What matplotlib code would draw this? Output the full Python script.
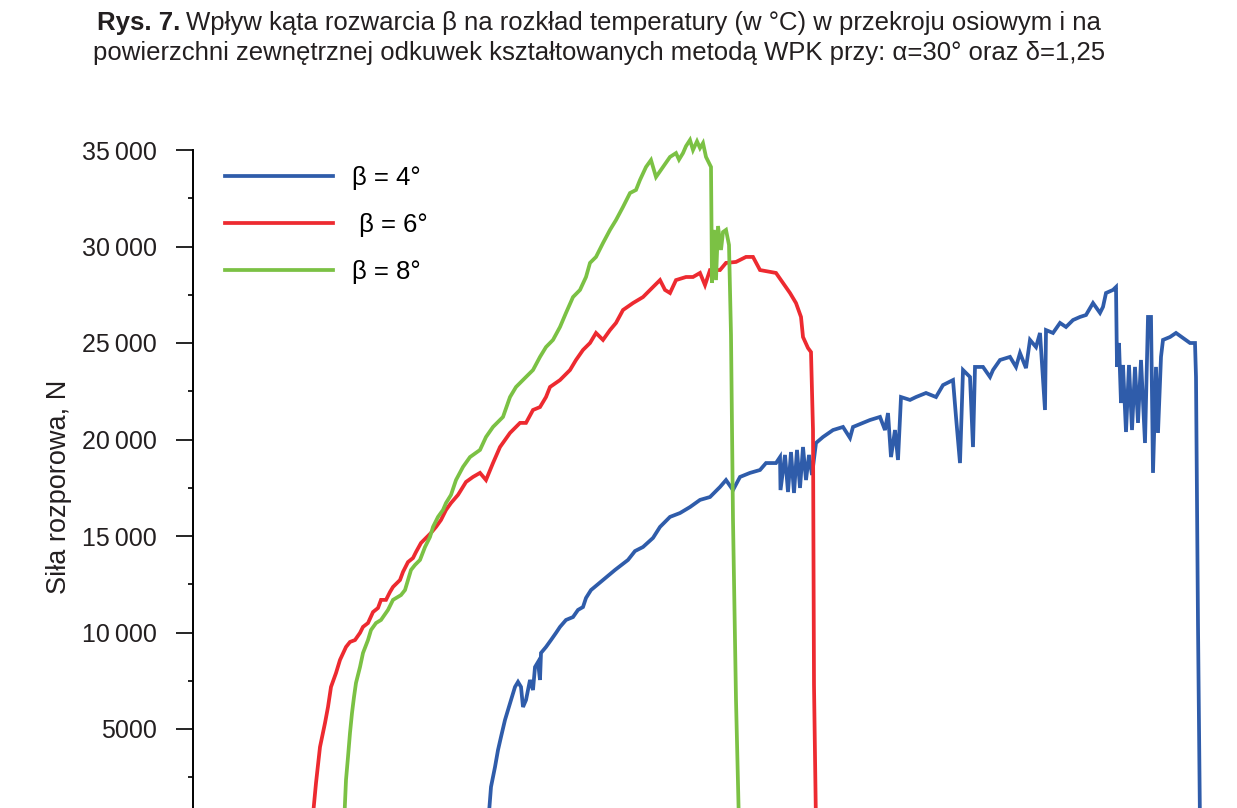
import numpy as np
import matplotlib
matplotlib.use('Agg')
from matplotlib import pyplot as plt
from matplotlib.ticker import MultipleLocator, FuncFormatter

plt.rcParams['font.family'] = ['Liberation Sans', 'DejaVu Sans']

# Displacement (mm) and spreading force (N)
x_b4 = [29.5, 29.8, 30.2, 30.5, 30.8, 31.2, 31.5, 31.8, 32.2, 32.5, 32.8, 33.0, 33.3, 33.7,
        34.0, 34.2, 34.5, 34.7, 34.8, 35.3, 35.8, 36.3, 36.7, 37.3, 38.0, 38.5, 39.0, 39.3,
        39.8, 41.0, 42.2, 43.5, 44.2, 45.0, 46.0, 46.7, 47.7, 48.7, 49.7, 50.7, 51.7, 52.7,
        53.3, 54.0, 54.7, 55.7, 56.7, 57.3, 58.3, 58.7, 58.75, 59.2, 59.5, 59.8, 60.1, 60.4,
        60.7, 61.0, 61.3, 61.6, 61.9, 62.3, 63.0, 64.0, 65.0, 65.7, 66.0, 67.0, 67.7, 68.7,
        69.2, 69.5, 69.8, 70.2, 70.5, 70.8, 71.7, 72.3, 73.3, 74.3, 75.0, 76.0, 76.3, 76.7,
        77.0, 77.7, 78.0, 78.2, 79.0, 79.7, 80.0, 80.7, 81.7, 82.3, 82.7, 83.3, 83.7, 84.3,
        84.7, 85.2, 85.3, 86.0, 86.7, 87.3, 88.0, 88.7, 89.3, 90.0, 90.7, 91.0, 91.3, 92.0,
        92.3, 92.4, 92.6, 92.8, 93.0, 93.3, 93.6, 93.9, 94.2, 94.5, 94.8, 95.2, 95.5, 95.8,
        96.0, 96.3, 96.5, 96.8, 97.0, 97.7, 98.3, 99.0, 99.7, 100.2, 100.3, 100.5, 100.7]
y_b4 = [0, 2000, 3030, 3910, 4590, 5470, 5990, 6500, 7180, 7440, 7180, 6140, 6500, 7540,
        7020, 8210, 8470, 7540, 8940, 9250, 9610, 9980, 10290, 10650, 10800, 11170, 11320, 11790,
        12200, 12720, 13240, 13760, 14220, 14430, 14900, 15470, 15990, 16190, 16500, 16870, 17020, 17540,
        17900, 17380, 18060, 18270, 18420, 18780, 18780, 19090, 17380, 19200, 17280, 19350, 17230, 19460,
        17490, 19610, 17900, 19200, 18160, 19820, 20130, 20490, 20650, 20080, 20650, 20860, 21010, 21170,
        20490, 21370, 19090, 20490, 18940, 22200, 22050, 22200, 22410, 22200, 22820, 23080, 21170, 18780,
        23600, 23240, 19610, 23760, 23760, 23240, 23600, 24120, 24280, 23760, 24480, 23700, 25160, 24790,
        25520, 21530, 25670, 25520, 26040, 25830, 26190, 26350, 26450, 27070, 26560, 26870, 27590, 27750,
        27900, 23760, 25000, 21890, 23860, 20390, 23860, 20490, 23760, 20860, 24120, 19820, 26350, 26350,
        18270, 23760, 20340, 24280, 25160, 25310, 25520, 25260, 25000, 25000, 23240, 10390, 0]

x_b6 = [11.9, 12.3, 12.7, 13.2, 13.5, 13.8, 14.3, 14.7, 15.3, 15.7, 16.2, 16.7, 17.0, 17.5,
        18.0, 18.5, 18.8, 19.3, 19.7, 20.0, 20.7, 21.0, 21.5, 22.0, 22.3, 22.8, 23.3, 23.8,
        24.3, 24.8, 25.3, 25.8, 26.5, 26.8, 27.3, 28.0, 28.7, 29.3, 30.0, 30.7, 31.7, 32.7,
        33.3, 34.0, 34.7, 35.3, 35.7, 36.7, 37.7, 38.3, 39.0, 39.7, 40.3, 41.0, 41.7, 42.3,
        43.0, 44.0, 45.0, 46.0, 46.7, 47.2, 47.7, 48.3, 49.3, 50.0, 50.7, 51.2, 51.7, 52.7,
        53.3, 54.3, 55.3, 56.0, 56.7, 58.3, 59.0, 59.7, 60.3, 60.8, 61.0, 61.5, 61.8, 62.0,
        62.1, 62.3]
y_b6 = [0, 2200, 4070, 5310, 6140, 7180, 7900, 8580, 9250, 9510, 9610, 9980, 10290, 10490,
        11060, 11270, 11690, 11690, 12100, 12360, 12720, 13140, 13650, 13860, 14170, 14640, 14900, 15160,
        15470, 15830, 16350, 16710, 17130, 17380, 17800, 18060, 18270, 17900, 18780, 19610, 20340, 20860,
        20860, 21530, 21680, 22200, 22720, 23080, 23600, 24120, 24640, 25000, 25520, 25160, 25670, 26040,
        26710, 27070, 27380, 27900, 28260, 27750, 27590, 28260, 28420, 28420, 28630, 28000, 28780, 28780,
        29150, 29200, 29460, 29460, 28780, 28630, 28110, 27590, 27070, 26350, 25310, 24740, 24530, 20490,
        7280, 0]

x_b8 = [15.1, 15.3, 15.5, 15.7, 15.9, 16.1, 16.3, 16.7, 17.0, 17.5, 17.8, 18.3, 18.8, 19.5,
        20.0, 20.8, 21.2, 21.5, 21.8, 22.2, 22.7, 23.2, 23.7, 24.0, 24.5, 25.0, 25.3, 25.8,
        26.3, 27.0, 27.7, 28.7, 29.3, 30.0, 31.0, 31.7, 32.3, 33.3, 34.0, 34.7, 35.3, 36.0,
        36.7, 37.3, 38.0, 38.7, 39.3, 39.7, 40.3, 41.0, 41.7, 42.3, 43.0, 43.7, 44.3, 44.7,
        45.3, 45.8, 46.3, 47.0, 47.7, 48.3, 48.6, 49.0, 49.3, 49.7, 50.0, 50.4, 50.7, 51.0,
        51.3, 51.8, 51.9, 52.1, 52.3, 52.5, 52.8, 53.0, 53.3, 53.6, 53.8, 54.0, 54.3, 54.6]
y_b8 = [0, 2360, 3550, 4800, 5830, 6660, 7390, 8210, 8940, 9610, 10130, 10490, 10650, 11170,
        11690, 11940, 12200, 12720, 13240, 13500, 13760, 14430, 14950, 15470, 15990, 16350, 16710, 17130,
        17900, 18580, 19090, 19460, 20130, 20650, 21170, 22200, 22720, 23240, 23600, 24280, 24790, 25160,
        25830, 26560, 27380, 27750, 28420, 29150, 29460, 30180, 30860, 31370, 32050, 32770, 32930, 33450,
        34120, 34480, 33600, 34120, 34640, 34840, 34500, 34840, 35200, 35520, 35000, 35450, 35100, 35360,
        34640, 34120, 28110, 30860, 28260, 31060, 29820, 30750, 30860, 30080, 25420, 15830, 6500, 0]

labels = ['β = 4°', ' β = 6°', 'β = 8°']
colors = ['#2f5caa', '#ed2a30', '#7bc144']

fig = plt.figure(figsize=(12.37, 8.08), dpi=100)
ax = fig.add_axes([193 / 1237, 1 - 825.5 / 808, 1 - 193 / 1237, 675.5 / 808])

for xs, ys, lab, c in zip([x_b4, x_b6, x_b8], [y_b4, y_b6, y_b8], labels, colors):
    ax.plot(xs, ys, color=c, lw=2.7, label=lab, clip_on=False, solid_joinstyle='miter')

ax.set_xlim(0, 104.4)
ax.set_ylim(0, 35000)
ax.yaxis.set_major_locator(MultipleLocator(5000))
ax.yaxis.set_minor_locator(MultipleLocator(2500))


def fmt(v, pos):
    v = int(round(v))
    if v == 0:
        return ''
    if v >= 10000:
        return '%d\u2009%03d' % (v // 1000, v % 1000)
    return '%d' % v


ax.yaxis.set_major_formatter(FuncFormatter(fmt))
ax.tick_params(axis='y', which='major', length=12, width=1.2, pad=14,
               labelsize=18, labelcolor='#231f20')
ax.tick_params(axis='y', which='minor', length=3.5, width=1.2)
ax.set_xticks([])
for s in ['top', 'right', 'bottom']:
    ax.spines[s].set_visible(False)
ax.spines['left'].set_linewidth(1.4)
ax.set_ylabel('Siła rozporowa, N', fontsize=19.5, color='#231f20')
ax.yaxis.set_label_coords((72 - 193) / 1044, (825.5 - 487) / 675.5)

ax.legend(loc='upper left', bbox_to_anchor=(225 / 1237, 1 - 166 / 808),
          bbox_transform=fig.transFigure, frameon=False, fontsize=18.5,
          handlelength=4.2, handletextpad=0.74, labelspacing=0.89,
          borderpad=0, borderaxespad=0)

# title: bold figure number followed by regular text
t1 = fig.text(97 / 1237, 1 - 30 / 808, 'Rys. 7.', fontsize=18.5, weight='bold',
              color='#231f20', va='baseline')
ax.annotate('Wpływ kąta rozwarcia β na rozkład temperatury (w °C) w przekroju osiowym i na',
            xy=(1, 0), xycoords=t1, xytext=(4, 0), textcoords='offset points',
            fontsize=18.5, color='#231f20', va='bottom', annotation_clip=False)
fig.text(93 / 1237, 1 - 60 / 808,
         'powierzchni zewnętrznej odkuwek kształtowanych metodą WPK przy: α=30° oraz δ=1,25',
         fontsize=18.5, color='#231f20', va='baseline')

plt.savefig('out.png', dpi=100)
